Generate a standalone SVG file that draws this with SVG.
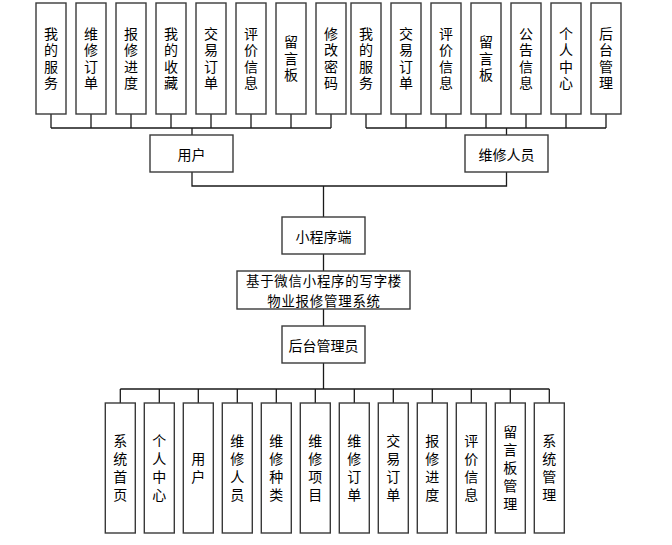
<svg xmlns="http://www.w3.org/2000/svg" width="672" height="545" viewBox="0 0 672 545">
<style>
.b{fill:#fff;stroke:#3a3a3a;stroke-width:1.4}
.l{fill:none;stroke:#1a1a1a;stroke-width:1.3}
text{font-family:"Noto Sans CJK SC","Liberation Sans",sans-serif;font-size:14px;fill:#000;text-anchor:middle;dominant-baseline:central}
.v{writing-mode:vertical-rl;letter-spacing:2.5px}
.w{writing-mode:vertical-rl;letter-spacing:4px}
.s{font-size:13.4px;letter-spacing:0.8px}
</style>
<rect width="672" height="545" fill="#fff"/>
<g id="connectors" class="l">
<path d="M51,114V128M91,114V128M131,114V128M171,114V128M211,114V128M251,114V128M291,114V128M331,114V128M51,128H331M192,128V135"/>
<path d="M366,114V128M406,114V128M446,114V128M486,114V128M526,114V128M566,114V128M606,114V128M366,128H606M506.5,128V135"/>
<path d="M192,172V186H506.5V172M323.5,186V217M323.5,254V271M323.5,309V326M323.5,363V389"/>
<path d="M120.3,389H549.3M120.3,389V403M159.3,389V403M198.3,389V403M237.3,389V403M276.3,389V403M315.3,389V403M354.3,389V403M393.3,389V403M432.3,389V403M471.3,389V403M510.3,389V403M549.3,389V403"/>
</g>
<g id="user-items">
<g id="u1"><rect class="b" x="36" y="3" width="30" height="111"/><text class="v" x="51" y="59.5">我的服务</text></g>
<g id="u2"><rect class="b" x="76" y="3" width="30" height="111"/><text class="v" x="91" y="59.5">维修订单</text></g>
<g id="u3"><rect class="b" x="116" y="3" width="30" height="111"/><text class="v" x="131" y="59.5">报修进度</text></g>
<g id="u4"><rect class="b" x="156" y="3" width="30" height="111"/><text class="v" x="171" y="59.5">我的收藏</text></g>
<g id="u5"><rect class="b" x="196" y="3" width="30" height="111"/><text class="v" x="211" y="59.5">交易订单</text></g>
<g id="u6"><rect class="b" x="236" y="3" width="30" height="111"/><text class="v" x="251" y="59.5">评价信息</text></g>
<g id="u7"><rect class="b" x="276" y="3" width="30" height="111"/><text class="v" x="291" y="59.5">留言板</text></g>
<g id="u8"><rect class="b" x="316" y="3" width="30" height="111"/><text class="v" x="331" y="59.5">修改密码</text></g>
</g>
<g id="repair-items">
<g id="r1"><rect class="b" x="351" y="3" width="30" height="111"/><text class="v" x="366" y="59.5">我的服务</text></g>
<g id="r2"><rect class="b" x="391" y="3" width="30" height="111"/><text class="v" x="406" y="59.5">交易订单</text></g>
<g id="r3"><rect class="b" x="431" y="3" width="30" height="111"/><text class="v" x="446" y="59.5">评价信息</text></g>
<g id="r4"><rect class="b" x="471" y="3" width="30" height="111"/><text class="v" x="486" y="59.5">留言板</text></g>
<g id="r5"><rect class="b" x="511" y="3" width="30" height="111"/><text class="v" x="526" y="59.5">公告信息</text></g>
<g id="r6"><rect class="b" x="551" y="3" width="30" height="111"/><text class="v" x="566" y="59.5">个人中心</text></g>
<g id="r7"><rect class="b" x="591" y="3" width="30" height="111"/><text class="v" x="606" y="59.5">后台管理</text></g>
</g>
<g id="user"><rect class="b" x="150" y="135" width="83" height="37"/><text x="191.5" y="153.5">用户</text></g>
<g id="repairman"><rect class="b" x="465" y="135" width="83" height="37"/><text x="506.5" y="153.5">维修人员</text></g>
<g id="miniapp"><rect class="b" x="282" y="217" width="83" height="37"/><text x="323.5" y="235.5">小程序端</text></g>
<g id="system"><rect class="b" x="237" y="271" width="173" height="38"/><text class="s" x="324" y="280.3">基于微信小程序的写字楼</text><text class="s" x="324" y="299.9">物业报修管理系统</text></g>
<g id="admin"><rect class="b" x="282" y="326" width="83" height="37"/><text x="323.5" y="344.5">后台管理员</text></g>
<g id="admin-items">
<g id="a1"><rect class="b" x="105.3" y="403" width="30" height="130"/><text class="w" x="120.3" y="470">系统首页</text></g>
<g id="a2"><rect class="b" x="144.3" y="403" width="30" height="130"/><text class="w" x="159.3" y="470">个人中心</text></g>
<g id="a3"><rect class="b" x="183.3" y="403" width="30" height="130"/><text class="w" x="198.3" y="470">用户</text></g>
<g id="a4"><rect class="b" x="222.3" y="403" width="30" height="130"/><text class="w" x="237.3" y="470">维修人员</text></g>
<g id="a5"><rect class="b" x="261.3" y="403" width="30" height="130"/><text class="w" x="276.3" y="470">维修种类</text></g>
<g id="a6"><rect class="b" x="300.3" y="403" width="30" height="130"/><text class="w" x="315.3" y="470">维修项目</text></g>
<g id="a7"><rect class="b" x="339.3" y="403" width="30" height="130"/><text class="w" x="354.3" y="470">维修订单</text></g>
<g id="a8"><rect class="b" x="378.3" y="403" width="30" height="130"/><text class="w" x="393.3" y="470">交易订单</text></g>
<g id="a9"><rect class="b" x="417.3" y="403" width="30" height="130"/><text class="w" x="432.3" y="470">报修进度</text></g>
<g id="a10"><rect class="b" x="456.3" y="403" width="30" height="130"/><text class="w" x="471.3" y="470">评价信息</text></g>
<g id="a11"><rect class="b" x="495.3" y="403" width="30" height="130"/><text class="w" x="510.3" y="470">留言板管理</text></g>
<g id="a12"><rect class="b" x="534.3" y="403" width="30" height="130"/><text class="w" x="549.3" y="470">系统管理</text></g>
</g>
</svg>
